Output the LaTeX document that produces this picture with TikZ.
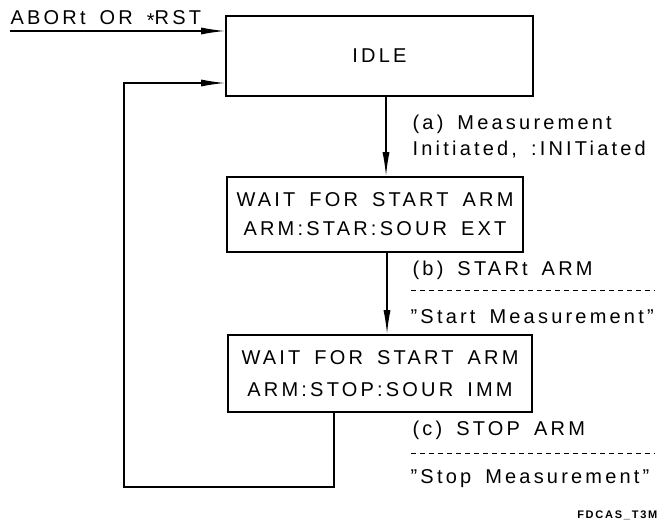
\documentclass[tikz,border=0pt]{standalone}
\usepackage{fontspec}
\setmainfont[LetterSpace=16,WordSpace=1.6]{Liberation Sans}
\usetikzlibrary{arrows.meta}

\begin{document}
\begin{tikzpicture}[x=1pt,y=-1pt,line width=1.3pt,
    state/.style={draw,line width=1.7pt,inner sep=0pt,align=center,font=\fontsize{20}{29}\selectfont},
    txt/.style={inner sep=0pt,anchor=base west,font=\fontsize{20}{26}\selectfont},
    flow/.style={-{Latex[length=24pt,width=7pt]}},
    sep/.style={line width=1pt,dash pattern=on 5pt off 4pt}]
      \useasboundingbox (0,0) rectangle (668,521);

      \node[state,minimum width=307pt,minimum height=80pt](Idle) at (379.5,56) {IDLE};
      \node[state,minimum width=296pt,minimum height=75pt](WaitStart) at (375,214.5)
            {WAIT FOR START ARM\\ARM:STAR:SOUR EXT};
      \node[state,minimum width=304pt,minimum height=77pt,font=\fontsize{20}{32}\selectfont](WaitStop) at (380,373.5)
            {WAIT FOR START ARM\\ARM:STOP:SOUR IMM};

      \coordinate(Reset) at (10,31);
      \coordinate(Loop) at (124,487);
      \node[txt](ResetText) at (10,25) {ABORt OR \raisebox{-0.25ex}{*}RST};

      \node[txt](LabelA1) at (412,130) {(a) Measurement};
      \node[txt](LabelA2) at (412,156) {Initiated, :INITiated};
      \node[txt](LabelB1) at (412,275) {(b) STARt ARM};
      \node[txt](LabelB2) at (410,323) {\char34 Start Measurement\char34};
      \node[txt](LabelC1) at (412,435) {(c) STOP ARM};
      \node[txt](LabelC2) at (410,483) {\char34 Stop Measurement\char34};
      \node[inner sep=0pt,anchor=base east,font=\fontsize{11}{13}\selectfont\bfseries](Tag) at (658,518) {FDCAS\_T3M};

      \draw[flow] (Reset) -- (Reset -| Idle.west);
      \draw[flow] ([xshift=6.5pt]Idle.south) -- ([xshift=11pt]WaitStart.north);
      \draw[flow] ([xshift=12pt]WaitStart.south) -- ([xshift=7pt]WaitStop.north);
      \draw[flow] ([xshift=-46pt]WaitStop.south) |- (Loop) |- ([yshift=-27pt]Idle.west);
      \draw[sep] (411,290) -- (655,290) (411,453) -- (655,453);
    \end{tikzpicture}
\end{document}
